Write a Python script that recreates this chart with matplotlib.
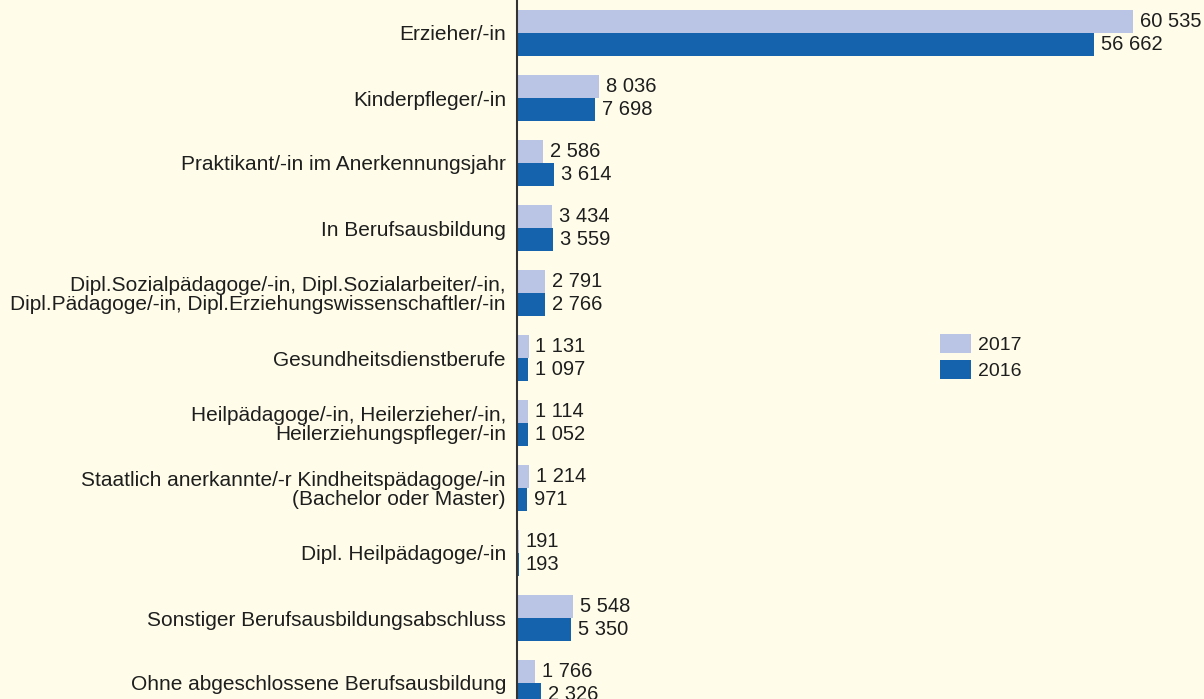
import matplotlib
matplotlib.use("Agg")
import matplotlib.pyplot as plt
import numpy as np

categories = [
    "Erzieher/-in",
    "Kinderpfleger/-in",
    "Praktikant/-in im Anerkennungsjahr",
    "In Berufsausbildung",
    "Dipl.Sozialpädagoge/-in, Dipl.Sozialarbeiter/-in,\nDipl.Pädagoge/-in, Dipl.Erziehungswissenschaftler/-in",
    "Gesundheitsdienstberufe",
    "Heilpädagoge/-in, Heilerzieher/-in,\nHeilerziehungspfleger/-in",
    "Staatlich anerkannte/-r Kindheitspädagoge/-in\n(Bachelor oder Master)",
    "Dipl. Heilpädagoge/-in",
    "Sonstiger Berufsausbildungsabschluss",
    "Ohne abgeschlossene Berufsausbildung",
]
values_2017 = [60535, 8036, 2586, 3434, 2791, 1131, 1114, 1214, 191, 5548, 1766]
values_2016 = [56662, 7698, 3614, 3559, 2766, 1097, 1052, 971, 193, 5350, 2326]
series_labels = ["2017", "2016"]

BG = "#FFFDEA"
C_LIGHT = "#BAC5E6"
C_DARK = "#1563AD"
TXT = "#1E1E1E"

plt.rcParams['font.family'] = ['Liberation Sans', 'DejaVu Sans']

W, H = 1204, 699
fig = plt.figure(figsize=(W / 100, H / 100), dpi=100, facecolor=BG)
ax = fig.add_axes([517 / W, 0, 1 - 517 / W, 1], facecolor=BG)

y = np.arange(len(categories))
bh = 0.36
b1 = ax.barh(y - bh / 2, values_2017, height=bh, color=C_LIGHT, label=series_labels[0])
b2 = ax.barh(y + bh / 2, values_2016, height=bh, color=C_DARK, label=series_labels[1])

def fmt(v):
    return f"{v:,}".replace(",", " ")

fs_val = 14.5
fs_cat = 15
ax.bar_label(b1, labels=[fmt(v) for v in values_2017], padding=5, fontsize=fs_val, color=TXT)
ax.bar_label(b2, labels=[fmt(v) for v in values_2016], padding=5, fontsize=fs_val, color=TXT)

ax.set_xlim(0, 67478)
ax.set_ylim((699 - 33) / 65, -33 / 65)
ax.set_yticks(y)
ax.set_yticklabels(categories, fontsize=fs_cat, color=TXT, linespacing=1.0)
ax.tick_params(axis='y', length=0, pad=8)
ax.set_xticks([])
for s in ["top", "right", "bottom"]:
    ax.spines[s].set_visible(False)
ax.spines["left"].set_color("#333333")
ax.spines["left"].set_linewidth(1.5)

leg = ax.legend(loc="upper left", bbox_to_anchor=((940 - 517) / (W - 517) - 0.012, 1 - 326 / H),
                frameon=False, fontsize=14, handlelength=1.6, handleheight=1.13,
                labelspacing=0.3, handletextpad=0.4, borderaxespad=0)
for t in leg.get_texts():
    t.set_color(TXT)

fig.savefig("out.png", dpi=100, facecolor=BG)
